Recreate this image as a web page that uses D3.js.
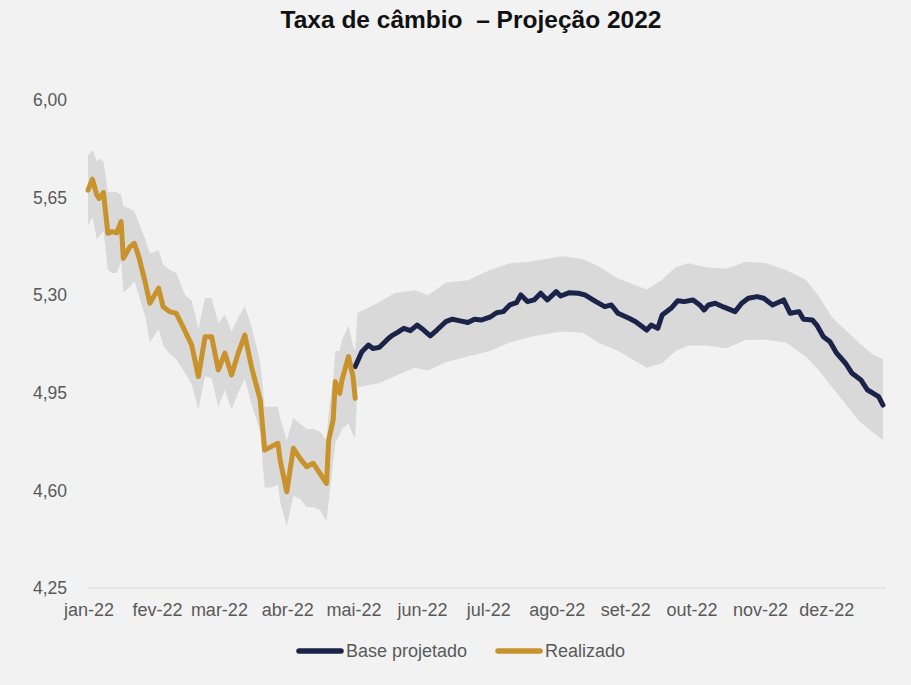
<!DOCTYPE html>
<html>
<head>
<meta charset="utf-8">
<script src="https://cdn.jsdelivr.net/npm/d3@7"></script>
<style>
  body { margin: 0; background: #f2f2f2; }
  svg { display: block; font-family: "Liberation Sans", Arial, sans-serif; }
</style>
</head>
<body>
<div id="chart"></div>
<script>
// Realizado (gold)
const realDates = ["2022-01-03","2022-01-05","2022-01-07","2022-01-08","2022-01-10","2022-01-12","2022-01-14","2022-01-16",
  "2022-01-18","2022-01-19","2022-01-22","2022-01-24","2022-01-26","2022-01-29","2022-01-31","2022-02-04","2022-02-06",
  "2022-02-09","2022-02-12","2022-02-16","2022-02-19","2022-02-22","2022-02-25","2022-02-28","2022-03-03","2022-03-06",
  "2022-03-09","2022-03-12","2022-03-15","2022-03-18","2022-03-22","2022-03-24","2022-03-27","2022-03-30","2022-03-31",
  "2022-04-03","2022-04-06","2022-04-09","2022-04-12","2022-04-15","2022-04-18","2022-04-21","2022-04-22","2022-04-24",
  "2022-04-25","2022-04-27","2022-04-28","2022-05-01","2022-05-03","2022-05-04"];
const realValues = [5.677,5.716,5.659,5.647,5.668,5.522,5.528,5.524,
  5.564,5.432,5.474,5.486,5.438,5.343,5.271,5.325,5.259,
  5.241,5.235,5.170,5.120,5.008,5.151,5.151,5.032,5.092,
  5.014,5.092,5.157,5.044,4.924,4.745,4.757,4.769,4.709,
  4.595,4.751,4.715,4.685,4.697,4.661,4.625,4.781,4.852,
  4.990,4.948,4.996,5.080,5.008,4.930];

// Base projetado (navy)
const projDates = ["2022-05-04","2022-05-07","2022-05-10","2022-05-12","2022-05-15","2022-05-19","2022-05-21","2022-05-23",
  "2022-05-26","2022-05-29","2022-06-01","2022-06-04","2022-06-07","2022-06-10","2022-06-14","2022-06-17","2022-06-20",
  "2022-06-24","2022-06-27","2022-06-30","2022-07-04","2022-07-07","2022-07-10","2022-07-13","2022-07-16","2022-07-18",
  "2022-07-21","2022-07-24","2022-07-27","2022-07-30","2022-08-03","2022-08-05","2022-08-09","2022-08-13","2022-08-16",
  "2022-08-21","2022-08-25","2022-08-28","2022-08-31","2022-09-05","2022-09-08","2022-09-13","2022-09-15","2022-09-18",
  "2022-09-20","2022-09-24","2022-09-27","2022-09-30","2022-10-04","2022-10-07","2022-10-09","2022-10-11","2022-10-14",
  "2022-10-18","2022-10-23","2022-10-26","2022-10-29","2022-11-02","2022-11-05","2022-11-09","2022-11-14","2022-11-17",
  "2022-11-21","2022-11-23","2022-11-27","2022-11-29","2022-12-02","2022-12-05","2022-12-08","2022-12-12","2022-12-15",
  "2022-12-19","2022-12-22","2022-12-24","2022-12-27","2022-12-29"];
const projValues = [5.044,5.097,5.121,5.109,5.113,5.145,5.157,5.166,
  5.181,5.173,5.193,5.175,5.154,5.175,5.205,5.214,5.209,
  5.202,5.214,5.211,5.221,5.237,5.241,5.265,5.273,5.301,
  5.277,5.283,5.307,5.283,5.313,5.297,5.309,5.307,5.301,
  5.277,5.259,5.265,5.235,5.217,5.205,5.175,5.193,5.181,
  5.229,5.253,5.280,5.277,5.283,5.265,5.247,5.265,5.271,
  5.257,5.241,5.271,5.289,5.295,5.289,5.265,5.283,5.235,
  5.241,5.214,5.211,5.193,5.151,5.133,5.092,5.056,5.020,
  4.996,4.960,4.951,4.936,4.906];

// faixa cinza (intervalo)
const bandDates = realDates.concat(["2022-05-05","2022-05-15","2022-05-22","2022-05-31","2022-06-06","2022-06-14",
  "2022-06-24","2022-07-04","2022-07-13","2022-07-22","2022-07-29","2022-08-06","2022-08-15","2022-08-22","2022-08-31",
  "2022-09-13","2022-09-20","2022-09-26","2022-10-02","2022-10-10","2022-10-19","2022-10-28","2022-11-06","2022-11-15",
  "2022-11-24","2022-11-30","2022-12-06","2022-12-12","2022-12-18","2022-12-24","2022-12-29"]);
const bandHigh = [5.80,5.82,5.78,5.79,5.78,5.67,5.67,5.67,
  5.66,5.62,5.61,5.60,5.56,5.50,5.45,5.46,5.41,
  5.39,5.38,5.30,5.28,5.18,5.29,5.29,5.20,5.23,
  5.17,5.22,5.26,5.19,5.06,4.90,4.90,4.90,4.86,
  4.78,4.86,4.84,4.82,4.82,4.81,4.78,4.88,5.00,
  5.10,5.10,5.14,5.19,5.12,5.10,
  5.236,5.276,5.308,5.318,5.30,5.345,
  5.354,5.39,5.415,5.42,5.43,5.44,5.43,5.405,5.36,
  5.32,5.355,5.40,5.415,5.40,5.395,5.42,5.415,5.39,
  5.355,5.295,5.22,5.175,5.13,5.09,5.07];
const bandLow = [5.55,5.58,5.50,5.51,5.53,5.39,5.38,5.38,
  5.42,5.31,5.33,5.35,5.30,5.22,5.13,5.18,5.12,
  5.09,5.07,5.02,4.98,4.89,5.01,5.00,4.90,4.96,
  4.89,4.95,5.00,4.91,4.81,4.61,4.61,4.62,4.56,
  4.47,4.58,4.57,4.54,4.54,4.53,4.49,4.56,4.70,
  4.77,4.80,4.82,4.84,4.80,4.79,
  4.97,4.985,5.01,5.04,5.03,5.06,
  5.08,5.10,5.13,5.15,5.16,5.17,5.165,5.13,5.10,
  5.04,5.056,5.10,5.12,5.12,5.11,5.14,5.14,5.13,
  5.08,5.03,4.97,4.91,4.85,4.81,4.78];

const yTicks = [4.25, 4.60, 4.95, 5.30, 5.65, 6.00];
const monthLabels = ["jan-22","fev-22","mar-22","abr-22","mai-22","jun-22","jul-22","ago-22","set-22","out-22","nov-22","dez-22"];

const width = 911, height = 685;
const goldColor = "#c8922c";
const navyColor = "#1b2348";
const bandColor = "#d9d9d9";

const parse = d3.utcParse("%Y-%m-%d");

const svg = d3.select("#chart").append("svg")
    .attr("width", width)
    .attr("height", height);

const x = d3.scaleUtc()
    .domain([parse("2022-01-03"), parse("2022-12-29")])
    .range([88, 883]);

const y = d3.scaleLinear()
    .domain([4.25, 6.00])
    .range([588, 100]);

// title
svg.append("text")
    .attr("x", 471)
    .attr("y", 28)
    .attr("text-anchor", "middle")
    .style("font-size", "24.5px")
    .style("font-weight", "bold")
    .style("fill", "#111")
    .style("white-space", "pre")
    .text("Taxa de câmbio \u00a0– Projeção 2022");

// band
let band = bandDates.map((d, i) => ({date: parse(d), hi: bandHigh[i], lo: bandLow[i]}));
let area = d3.area()
    .x(d => x(d.date))
    .y0(d => y(d.lo))
    .y1(d => y(d.hi));
svg.append("path")
    .datum(band)
    .attr("d", area)
    .style("fill", bandColor);

// baseline
svg.append("line")
    .attr("x1", 87).attr("x2", 886)
    .attr("y1", y(4.25)).attr("y2", y(4.25))
    .style("stroke", "#d9d9d9")
    .style("stroke-width", 1);

// y axis
let yAxis = d3.axisLeft(y)
    .tickValues(yTicks)
    .tickSize(0)
    .tickPadding(0)
    .tickFormat(d => d3.format(".2f")(d).replace(".", ","));
let yg = svg.append("g")
    .attr("transform", "translate(67,0)")
    .call(yAxis);
yg.select(".domain").remove();
yg.selectAll("text")
    .style("font-size", "17.5px")
    .style("font-family", "Liberation Sans, Arial, sans-serif")
    .style("fill", "#595959");

// x axis
let months = d3.range(12).map(m => new Date(Date.UTC(2022, m, 1)));
let xAxis = d3.axisBottom(x)
    .tickValues(months)
    .tickSize(0)
    .tickPadding(0)
    .tickFormat((d, i) => monthLabels[i]);
let xg = svg.append("g")
    .attr("transform", "translate(0,603)")
    .call(xAxis);
xg.select(".domain").remove();
xg.selectAll("text")
    .attr("x", 5)
    .style("font-size", "18px")
    .style("font-family", "Liberation Sans, Arial, sans-serif")
    .style("fill", "#595959");

// lines
let line = d3.line()
    .x(d => x(d.date))
    .y(d => y(d.value));

let real = realDates.map((d, i) => ({date: parse(d), value: realValues[i]}));
let proj = projDates.map((d, i) => ({date: parse(d), value: projValues[i]}));

svg.append("path")
    .datum(proj)
    .attr("d", line)
    .style("fill", "none")
    .style("stroke", navyColor)
    .style("stroke-width", 5)
    .style("stroke-linejoin", "round")
    .style("stroke-linecap", "round");

svg.append("path")
    .datum(real)
    .attr("d", line)
    .style("fill", "none")
    .style("stroke", goldColor)
    .style("stroke-width", 5)
    .style("stroke-linejoin", "round")
    .style("stroke-linecap", "round");

// legend
let legendItems = [
    {label: "Base projetado", color: navyColor, x: 299},
    {label: "Realizado", color: goldColor, x: 498}
];
let legend = svg.append("g").attr("class", "legend");
legendItems.forEach(item => {
    legend.append("line")
        .attr("x1", item.x).attr("x2", item.x + 42)
        .attr("y1", 651).attr("y2", 651)
        .style("stroke", item.color)
        .style("stroke-width", 5.5)
        .style("stroke-linecap", "round");
    legend.append("text")
        .attr("x", item.x + 47)
        .attr("y", 651)
        .attr("dy", "0.35em")
        .style("font-size", "18px")
        .style("fill", "#595959")
        .text(item.label);
});
</script>
</body>
</html>
